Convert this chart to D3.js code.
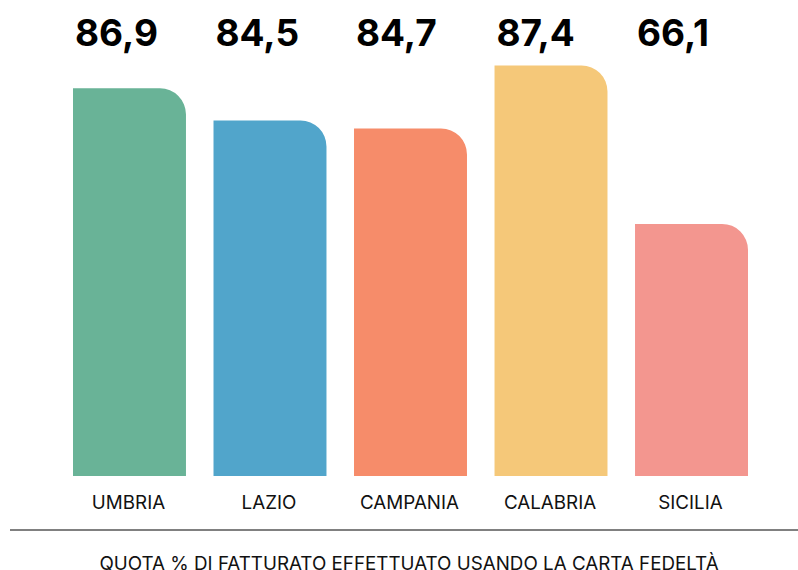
<!DOCTYPE html>
<html lang="it">
<head>
	<meta charset="UTF-8">
	<title>Quota fatturato carta fedeltà</title>
	<script src="https://cdn.jsdelivr.net/npm/d3@7"></script>
	<style>
		body { margin: 0; background: #fff; }
		text { font-family: Inter, "Noto Sans", sans-serif; }
		.value { font-size: 37px; font-weight: 700; fill: #000; }
		.cat { font-size: 18.8px; fill: #111; }
		.title { font-size: 18.8px; fill: #111; }
	</style>
</head>
<body>
<script>
	var regions = ['UMBRIA', 'LAZIO', 'CAMPANIA', 'CALABRIA', 'SICILIA'];
	// labels shown above the bars
	var valueLabels = ['86,9', '84,5', '84,7', '87,4', '66,1'];
	// bar lengths as drawn in the picture (they do not follow the labels exactly)
	var barValues = [88.1, 80.8, 79.0, 93.3, 57.3];
	var colors = ['#69b397', '#51a5cb', '#f68c6a', '#f5c879', '#f3968f'];
	var titleText = 'QUOTA % DI FATTURATO EFFETTUATO USANDO LA CARTA FEDELTÀ';

	var width = 798, height = 570;
	var baseY = 476, radius = 26;

	var svg = d3.select('body').append('svg')
		.attr('width', width)
		.attr('height', height);

	var x = d3.scaleBand()
		.domain(regions)
		.range([73, 748])
		.paddingInner(0.196)
		.paddingOuter(0);

	var y = d3.scaleLinear()
		.domain([0, 100])
		.range([baseY, 36]);

	function barPath(d, i) {
		var x0 = x(d), w = x.bandwidth(), top = y(barValues[i]);
		return 'M' + x0 + ',' + baseY +
			'L' + x0 + ',' + top +
			'L' + (x0 + w - radius) + ',' + top +
			'A' + radius + ',' + radius + ' 0 0 1 ' + (x0 + w) + ',' + (top + radius) +
			'L' + (x0 + w) + ',' + baseY + 'Z';
	}

	svg.selectAll('.bar')
		.data(regions)
		.enter().append('path')
		.attr('class', 'bar')
		.attr('d', barPath)
		.attr('fill', function (d, i) { return colors[i]; });

	svg.selectAll('.value')
		.data(regions)
		.enter().append('text')
		.attr('class', 'value')
		.attr('x', function (d) { return x(d) + 2; })
		.attr('y', 46)
		.text(function (d, i) { return valueLabels[i]; });

	svg.selectAll('.cat')
		.data(regions)
		.enter().append('text')
		.attr('class', 'cat')
		.attr('x', function (d) { return x(d) + x.bandwidth() / 2 - 1; })
		.attr('y', 509)
		.attr('text-anchor', 'middle')
		.text(function (d) { return d; });

	svg.append('line')
		.attr('x1', 10)
		.attr('x2', width)
		.attr('y1', 530)
		.attr('y2', 530)
		.attr('stroke', '#808080')
		.attr('stroke-width', 2);

	// the reference crops this title at the bottom edge
	svg.append('text')
		.attr('class', 'title')
		.attr('x', 409)
		.attr('y', 570)
		.attr('text-anchor', 'middle')
		.text(titleText);
</script>
</body>
</html>
